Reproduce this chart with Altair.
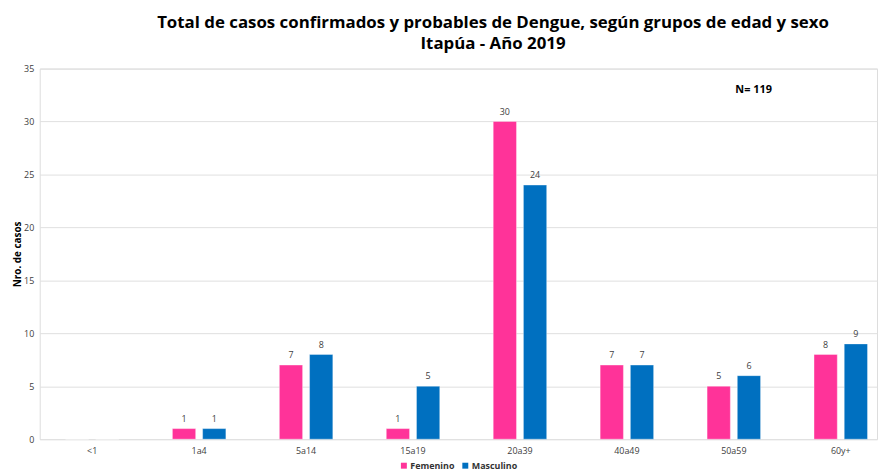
import altair as alt
import pandas as pd

groups = ["<1", "1a4", "5a14", "15a19", "20a39", "40a49", "50a59", "60y+"]
femenino = [0, 1, 7, 1, 30, 7, 5, 8]
masculino = [0, 1, 8, 5, 24, 7, 6, 9]
sexes = ["Femenino", "Masculino"]
colors = ["#FF3399", "#0070C0"]

rows = []
for g, f, m in zip(groups, femenino, masculino):
    rows.append({"grupo": g, "sexo": "Femenino", "casos": f})
    rows.append({"grupo": g, "sexo": "Masculino", "casos": m})
df = pd.DataFrame(rows)

ann = pd.DataFrame({"grupo": ["50a59"], "casos": [33], "txt": ["N= 119"]})

FONT = "Open Sans"

x_enc = alt.X("grupo:N", sort=groups,
              scale=alt.Scale(paddingInner=0.5, paddingOuter=0.165, align=0.73),
              axis=alt.Axis(title=None, labelAngle=0, labelFontSize=9, labelColor="#404040",
                            ticks=False, domain=False, labelPadding=7, labelFont=FONT))
y_enc = alt.Y("casos:Q", scale=alt.Scale(domain=[0, 35]),
              axis=alt.Axis(title="Nro. de casos", values=[0, 5, 10, 15, 20, 25, 30, 35],
                            titleFontSize=10, titleFont=FONT, titleFontWeight="bold",
                            titleColor="#000000", titlePadding=1,
                            labelFontSize=9, labelColor="#404040", labelFont=FONT,
                            ticks=False, domain=False, gridColor="#E0E0E0", labelPadding=6))

base = alt.Chart(df).encode(
    x=x_enc,
    xOffset=alt.XOffset("sexo:N", sort=sexes,
                        scale=alt.Scale(paddingInner=0.23, paddingOuter=0)),
    y=y_enc,
)

bars = base.mark_bar(stroke="white", strokeWidth=0.6, strokeOpacity=0.6).encode(
    color=alt.Color("sexo:N", sort=sexes, scale=alt.Scale(domain=sexes, range=colors),
                    legend=alt.Legend(title=None, orient="none", direction="horizontal",
                                      legendX=363, legendY=396, symbolType="square",
                                      symbolSize=36, labelFontSize=9, labelFont=FONT,
                                      labelFontWeight="bold", labelColor="#333333",
                                      columnPadding=6, labelOffset=2, symbolStrokeWidth=0))
)

labels = base.transform_filter("datum.casos > 0").mark_text(
    dy=-10, fontSize=9, color="#404040", font=FONT
).encode(text="casos:Q")

note = alt.Chart(ann).mark_text(
    fontSize=11, fontWeight="bold", font=FONT, color="#000000", dx=20
).encode(
    x=alt.X("grupo:N", sort=groups),
    y=alt.Y("casos:Q"),
    text="txt:N",
)

chart = alt.layer(bars, labels, note).properties(
    width=845,
    height=374,
    autosize=alt.AutoSizeParams(type="none"),
    padding={"left": 32, "top": 59, "right": 3, "bottom": 34},
    title=alt.TitleParams(
        text=["Total de casos confirmados y probables de Dengue, según grupos de edad y sexo",
              "Itapúa - Año 2019"],
        fontSize=17, font=FONT, fontWeight="bold", color="#000000",
        anchor="middle", offset=12, lineHeight=21, dx=35,
    ),
).configure_view(stroke=None).configure(background="white")

chart.save("out.html", embed_options={"renderer": "svg", "actions": False})
